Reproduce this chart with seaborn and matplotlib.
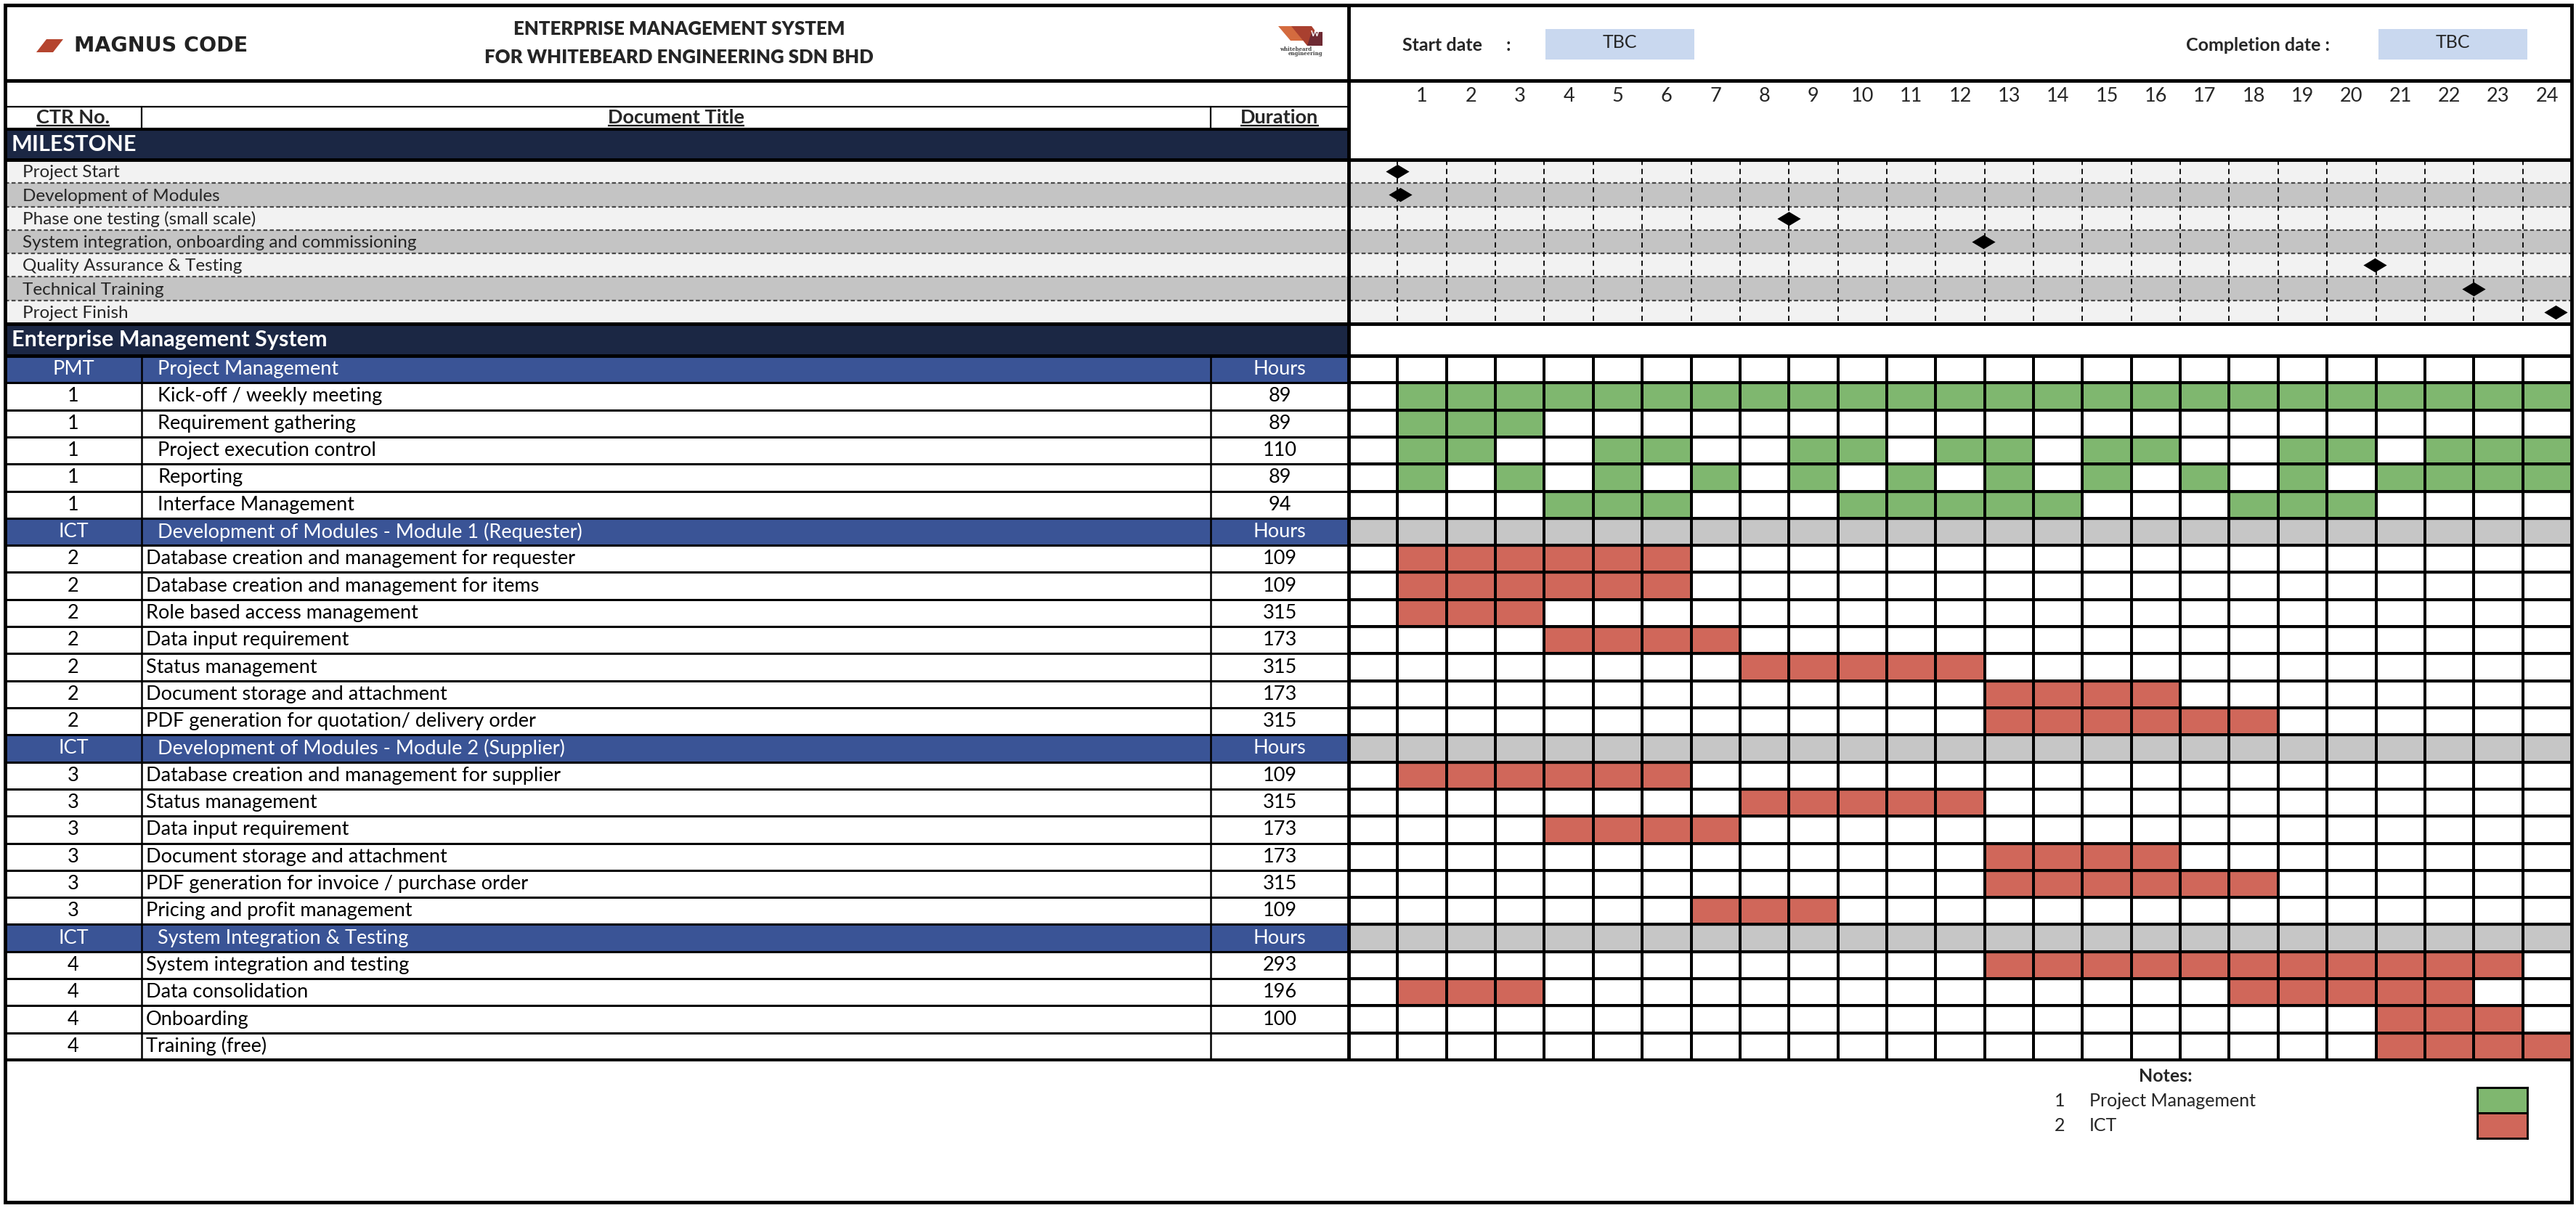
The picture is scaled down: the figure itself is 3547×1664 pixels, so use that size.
import numpy as np
import pandas as pd
import matplotlib
matplotlib.use("Agg")
import matplotlib.pyplot as plt
from matplotlib.colors import ListedColormap
from matplotlib.patches import Rectangle, Polygon
from matplotlib.path import Path
import seaborn as sns

# time line (months)
months = list(range(1, 25))

# milestones and where the diamond sits (months from project start)
milestones = ["Project Start", "Development of Modules", "Phase one testing (small scale)",
              "System integration, onboarding and commissioning", "Quality Assurance & Testing",
              "Technical Training", "Project Finish"]
milestone_month = [0.0, 0.06, 8.0, 11.97, 19.97, 22.0, 23.68]

# work packages
section_codes = ["PMT", "ICT", "ICT", "ICT"]
section_titles = ["Project Management",
                  "Development of Modules - Module 1 (Requester)",
                  "Development of Modules - Module 2 (Supplier)",
                  "System Integration & Testing"]
section_ctr = ["1", "2", "3", "4"]
section_type = [1, 2, 2, 2]  # 1 = project management, 2 = ICT

pm_tasks = ["Kick-off / weekly meeting", "Requirement gathering", "Project execution control",
            "Reporting", "Interface Management"]
pm_hours = ["89", "89", "110", "89", "94"]
pm_months = [
    months,
    [1, 2, 3],
    [1, 2, 5, 6, 9, 10, 12, 13, 15, 16, 19, 20, 22, 23, 24],
    [1, 3, 5, 7, 9, 11, 13, 15, 17, 19, 21, 22, 23, 24],
    [4, 5, 6, 10, 11, 12, 13, 14, 18, 19, 20],
]

m1_tasks = ["Database creation and management for requester", "Database creation and management for items",
            "Role based access management", "Data input requirement", "Status management",
            "Document storage and attachment", "PDF generation for quotation/ delivery order"]
m1_hours = ["109", "109", "315", "173", "315", "173", "315"]
m1_months = [
    [1, 2, 3, 4, 5, 6],
    [1, 2, 3, 4, 5, 6],
    [1, 2, 3],
    [4, 5, 6, 7],
    [8, 9, 10, 11, 12],
    [13, 14, 15, 16],
    [13, 14, 15, 16, 17, 18],
]

m2_tasks = ["Database creation and management for supplier", "Status management", "Data input requirement",
            "Document storage and attachment", "PDF generation for invoice / purchase order",
            "Pricing and profit management"]
m2_hours = ["109", "315", "173", "173", "315", "109"]
m2_months = [
    [1, 2, 3, 4, 5, 6],
    [8, 9, 10, 11, 12],
    [4, 5, 6, 7],
    [13, 14, 15, 16],
    [13, 14, 15, 16, 17, 18],
    [7, 8, 9],
]

si_tasks = ["System integration and testing", "Data consolidation", "Onboarding", "Training (free)"]
si_hours = ["293", "196", "100", ""]
si_months = [
    [13, 14, 15, 16, 17, 18, 19, 20, 21, 22, 23],
    [1, 2, 3, 18, 19, 20, 21, 22],
    [21, 22, 23],
    [21, 22, 23, 24],
]

legend_no = ["1", "2"]
legend_labels = ["Project Management", "ICT"]

# colours
GREEN = "#7fb76f"
RED = "#d0675a"
GREY = "#c6c6c6"
NAVY = "#1b2744"
BLUE = "#3a5496"
STRIPE = ["#f2f2f2", "#c4c4c4"]
TBC_FILL = "#c9d8ef"

sns.set_style("white")
plt.rcParams["font.family"] = ["Lato", "DejaVu Sans"]

# one row per line of the schedule
rows = []
for code, title, ctr, kind, tasks, hours, active in zip(
        section_codes, section_titles, section_ctr, section_type,
        [pm_tasks, m1_tasks, m2_tasks, si_tasks],
        [pm_hours, m1_hours, m2_hours, si_hours],
        [pm_months, m1_months, m2_months, si_months]):
    rows.append({"ctr": code, "title": title, "hours": "Hours", "head": True, "kind": kind, "active": []})
    for t, h, a in zip(tasks, hours, active):
        rows.append({"ctr": ctr, "title": t, "hours": h, "head": False, "kind": kind, "active": a})
plan = pd.DataFrame(rows)

# cell codes: 0 white, 1 green, 2 red, 3 grey (ICT header rows)
cells = np.zeros((len(plan), len(months) + 1))
for i, r in plan.iterrows():
    if r["head"] and r["kind"] == 2:
        cells[i, :] = 3
    for m in r["active"]:
        cells[i, m] = r["kind"]
cmap = ListedColormap(["white", GREEN, RED, GREY])

# page layout (pixels)
W, H = 3548, 1664
L, R, T, B = 7, 3541, 7, 1656
X_CTR, X_DUR, X_CHART = 195, 1667, 1857
Y_HEAD, Y_NUM, Y_COLS, Y_MS0, Y_MS1, Y_T0, Y_T1 = 111, 147, 178, 220, 446, 490, 1460

FS = 19.5
FS_MS = 17.5
FS_BIG = 22
FS_HDR = 18

fig = plt.figure(figsize=(W / 100, H / 100), dpi=100)
fig.patch.set_facecolor("white")


def panel(x0, y0, x1, y1, **kw):
    return fig.add_axes([x0 / W, 1 - y1 / H, (x1 - x0) / W, (y1 - y0) / H], **kw)


# ---- gantt cells ----
ax_g = panel(X_CHART, Y_T0, R, Y_T1)
sns.heatmap(cells, cmap=cmap, vmin=-0.5, vmax=3.5, cbar=False, linewidths=1.6, linecolor="black",
            xticklabels=False, yticklabels=False, ax=ax_g)
ax_g.hlines(np.arange(len(plan) + 1), 0, cells.shape[1], color="black", lw=2.4)
ax_g.set_xlabel("")
ax_g.set_ylabel("")

# ---- task table ----
ax_t = panel(L, Y_T0, X_CHART, Y_T1)
ax_t.set_xlim(L, X_CHART)
ax_t.set_ylim(len(plan), 0)
ax_t.axis("off")
for i, r in plan.iterrows():
    y = i + 0.5
    if r["head"]:
        ax_t.axhspan(i, i + 1, color=BLUE, lw=0)
        c, tx = "white", 217
    else:
        c, tx = "black", 217 if r["kind"] == 1 else 201
    ax_t.text(101, y, r["ctr"], ha="center", va="center", color=c, fontsize=FS)
    ax_t.text(tx, y, r["title"], ha="left", va="center", color=c, fontsize=FS)
    ax_t.text(1762, y, r["hours"], ha="center", va="center", color=c, fontsize=FS)
ax_t.hlines(np.arange(len(plan) + 1), L, X_CHART, color="black", lw=2.2)
ax_t.vlines([X_CTR, X_DUR], 0, len(plan), color="black", lw=1.8)

# ---- milestones ----
n_ms = len(milestones)
ax_ml = panel(L, Y_MS0, X_CHART, Y_MS1)
ax_mc = panel(X_CHART, Y_MS0, R, Y_MS1)
ax_ml.set_xlim(L, X_CHART)
ax_mc.set_xlim(-1, len(months))
for ax in (ax_ml, ax_mc):
    ax.set_ylim(n_ms, 0)
    ax.axis("off")
    for i in range(n_ms):
        ax.axhspan(i, i + 1, color=STRIPE[i % 2], lw=0)
    x0, x1 = ax.get_xlim()
    ax.hlines(np.arange(1, n_ms), x0, x1, color="#4a4a4a", lw=1.6, linestyles=(0, (2.5, 1.5)))
for i, name in enumerate(milestones):
    ax_ml.text(31, i + 0.55, name, ha="left", va="center", fontsize=FS_MS)
ax_mc.vlines(np.arange(0, len(months)), 0, n_ms, color="black", lw=1.3, linestyles=(0, (4, 3)))
diamond = Path([(0, -0.6), (1, 0), (0, 0.6), (-1, 0), (0, -0.6)],
               [Path.MOVETO, Path.LINETO, Path.LINETO, Path.LINETO, Path.CLOSEPOLY])
sns.scatterplot(x=milestone_month, y=np.arange(n_ms) + 0.5, marker=diamond, s=540,
                color="black", edgecolor="black", linewidth=0, ax=ax_mc, zorder=5, clip_on=False)

# ---- month numbers ----
ax_n = panel(X_CHART, Y_HEAD, R, Y_MS0)
ax_n.set_xlim(-1, len(months))
ax_n.set_ylim(1, 0)
ax_n.axis("off")
for m in months:
    ax_n.text(m - 0.5, 0.2, str(m), ha="center", va="center", fontsize=FS)

# ---- legend swatches ----
ax_lg = panel(3411, 1498, 3480, 1568)
sns.heatmap(np.array([[1], [2]]), cmap=cmap, vmin=-0.5, vmax=3.5, cbar=False, linewidths=2,
            linecolor="black", xticklabels=False, yticklabels=False, ax=ax_lg)
for sp in ax_lg.spines.values():
    sp.set_visible(True)
    sp.set_linewidth(2)
    sp.set_color("black")

# ---- frame, header and lines ----
ax_f = panel(0, 0, W, H)
ax_f.set_xlim(0, W)
ax_f.set_ylim(H, 0)
ax_f.axis("off")
ax_f.patch.set_alpha(0)

ax_f.add_patch(Rectangle((L, Y_COLS), X_CHART - L, Y_MS0 - Y_COLS, color=NAVY, lw=0))
ax_f.add_patch(Rectangle((L, Y_MS1), X_CHART - L, Y_T0 - Y_MS1, color=NAVY, lw=0))
ax_f.text(16, (Y_COLS + Y_MS0) / 2, "MILESTONE", color="white", fontsize=FS_BIG, fontweight="bold",
          ha="left", va="center")
ax_f.text(16, (Y_MS1 + Y_T0) / 2, "Enterprise Management System", color="white", fontsize=FS_BIG,
          fontweight="bold", ha="left", va="center")

# logos and titles
ax_f.add_patch(Polygon([(50, 72), (64, 54), (87, 54), (73, 72)], color="#b5452f", lw=0))
ax_f.text(102, 63, "MAGNUS CODE", fontsize=20.5, fontweight="bold", family=["DejaVu Sans"],
          color="#222222", ha="left", va="center")
ax_f.text(935, 40, "ENTERPRISE MANAGEMENT SYSTEM", fontsize=FS_HDR + 0.5, fontweight="heavy",
          ha="center", va="center")
ax_f.text(935, 79, "FOR WHITEBEARD ENGINEERING SDN BHD", fontsize=FS_HDR + 0.5, fontweight="heavy",
          ha="center", va="center")
ax_f.add_patch(Polygon([(1760, 36), (1784, 36), (1800, 56), (1777, 56)], color="#d46b3f", lw=0))
ax_f.add_patch(Polygon([(1778, 36), (1806, 36), (1821, 56), (1821, 63), (1800, 63)], color="#a9402f", lw=0))
ax_f.add_patch(Polygon([(1800, 63), (1821, 63), (1821, 44), (1806, 44)], color="#6e2a33", lw=0))
ax_f.text(1811, 47, "W", color="white", fontsize=8, fontweight="bold", ha="center", va="center")
ax_f.text(1806, 68, "whitebeard", fontsize=5, fontweight="bold", color="#444444", ha="right", va="center",
          family=["DejaVu Serif"])
ax_f.text(1821, 74, "engineering", fontsize=5, fontweight="bold", color="#444444", ha="right", va="center",
          family=["DejaVu Serif"])

ax_f.text(1931, 62, "Start date", fontsize=FS_HDR, fontweight="bold", ha="left", va="center")
ax_f.text(2074, 62, ":", fontsize=FS_HDR, fontweight="bold", ha="left", va="center")
ax_f.text(3010, 62, "Completion date :", fontsize=FS_HDR, fontweight="bold", ha="left", va="center")
for bx in (2128, 3275):
    ax_f.add_patch(Rectangle((bx, 40), 205, 42, color=TBC_FILL, lw=0))
    ax_f.text(bx + 102, 59, "TBC", fontsize=FS_HDR, ha="center", va="center")

# column headings (bold, underlined)
heads = [ax_f.text(101, 162, "CTR No.", fontsize=FS, fontweight="bold", ha="center", va="center"),
         ax_f.text(931, 162, "Document Title", fontsize=FS, fontweight="bold", ha="center", va="center"),
         ax_f.text(1762, 162, "Duration", fontsize=FS, fontweight="bold", ha="center", va="center")]

# notes
ax_f.text(2982, 1482, "Notes:", fontsize=FS_HDR, fontweight="bold", ha="center", va="center")
for k, (no, lab) in enumerate(zip(legend_no, legend_labels)):
    ax_f.text(2836, 1516 + 35 * k, no, fontsize=FS_HDR, ha="center", va="center")
    ax_f.text(2877, 1516 + 35 * k, lab, fontsize=FS_HDR, ha="left", va="center")

# ruling
ax_f.add_patch(Rectangle((L, T), R - L, B - T, fill=False, ec="black", lw=3.5))
ax_f.hlines([Y_HEAD, Y_MS0, Y_MS1, Y_T0], L, R, color="black", lw=3.5)
ax_f.hlines(Y_T1, L, R, color="black", lw=3)
ax_f.hlines(Y_NUM, L, X_CHART, color="black", lw=1.6)
ax_f.hlines(Y_COLS, L, X_CHART, color="black", lw=3)
ax_f.vlines(X_CHART, T, Y_T1, color="black", lw=3.5)
ax_f.vlines([X_CTR, X_DUR], Y_NUM, Y_COLS, color="black", lw=1.6)

fig.canvas.draw()
inv = ax_f.transData.inverted()
for t in heads:
    bb = t.get_window_extent()
    (xa, ya), (xb, yb) = inv.transform([(bb.x0, bb.y0), (bb.x1, bb.y1)])
    ax_f.hlines(max(ya, yb) - 1, xa, xb, color="black", lw=1.6)

fig.savefig("out.png", dpi=100, facecolor="white")
